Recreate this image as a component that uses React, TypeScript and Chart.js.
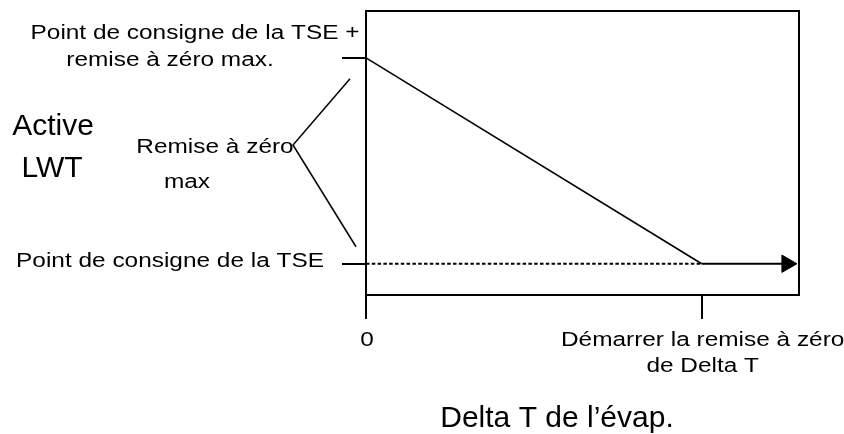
import React, { useEffect, useRef } from "react";
import { Chart, registerables } from "chart.js";

Chart.register(...registerables);

// ---- data (abstract units) ----
const X_MIN = 0;
const X_MAX = 12.9;
const X_RESET_START = 10; // "Démarrer la remise à zéro de Delta T"
const X_ARROW_END = 12.54;
const Y_MIN = 0;
const Y_MAX = 10;
const SETPOINT = 1.1; // "Point de consigne de la TSE"
const MAX_RESET = 7.25; // "Remise à zéro max"

const resetLineX = [0, X_RESET_START];
const resetLineY = [SETPOINT + MAX_RESET, SETPOINT];
const baseLineX = [0, X_RESET_START];
const baseLineY = [SETPOINT, SETPOINT];
const arrowX = [X_RESET_START, X_ARROW_END];
const arrowY = [SETPOINT, SETPOINT];

const xTickValues = [0, X_RESET_START];
const xTickLabels = [["0"], ["Démarrer la remise à zéro", "de Delta T"]];
const yTickValues = [SETPOINT, SETPOINT + MAX_RESET];
const yLowLabel = "Point de consigne de la TSE";
const yHighLabel = ["Point de consigne de la TSE +", "remise à zéro max."];
const bracketLabel = ["Remise à zéro", "max"];
const yTitle = ["Active", "LWT"];
const xTitle = "Delta T de l’évap.";

const FONT = '"Liberation Sans", Arial, Helvetica, sans-serif';

const toPts = (xs: number[], ys: number[]) => xs.map((x, i) => ({ x, y: ys[i] }));

function stretchText(
  ctx: CanvasRenderingContext2D,
  text: string,
  x: number,
  y: number,
  size: number,
  align: CanvasTextAlign,
  sx: number
) {
  ctx.save();
  ctx.translate(x, y);
  ctx.scale(sx, 1);
  ctx.font = `${size}px ${FONT}`;
  ctx.textAlign = align;
  ctx.textBaseline = "alphabetic";
  ctx.fillStyle = "#000";
  ctx.fillText(text, 0, 0);
  ctx.restore();
}

const decorPlugin = {
  id: "decor",
  afterDraw(chart: any) {
    const ctx: CanvasRenderingContext2D = chart.ctx;
    const { left, right, top, bottom } = chart.chartArea;
    const xs = chart.scales.x;
    const ys = chart.scales.y;
    ctx.save();
    ctx.strokeStyle = "#000";
    ctx.lineWidth = 2;
    ctx.setLineDash([]);
    // frame
    ctx.strokeRect(left, top, right - left, bottom - top);
    // x ticks
    xTickValues.forEach((v) => {
      const px = Math.round(xs.getPixelForValue(v));
      ctx.beginPath();
      ctx.moveTo(px, bottom);
      ctx.lineTo(px, bottom + 24);
      ctx.stroke();
    });
    // y ticks
    yTickValues.forEach((v) => {
      const py = Math.round(ys.getPixelForValue(v));
      ctx.beginPath();
      ctx.moveTo(left - 24, py);
      ctx.lineTo(left, py);
      ctx.stroke();
    });
    const yLow = ys.getPixelForValue(yTickValues[0]);
    const yHigh = ys.getPixelForValue(yTickValues[1]);
    // bracket
    ctx.lineWidth = 1.5;
    ctx.beginPath();
    ctx.moveTo(left - 16, yHigh + 21);
    ctx.lineTo(left - 73, 145);
    ctx.lineTo(left - 10, yLow - 17);
    ctx.stroke();
    ctx.restore();

    const SX = 1.22;
    // x tick labels
    xTickValues.forEach((v, i) => {
      const px = xs.getPixelForValue(v);
      xTickLabels[i].forEach((line, j) => {
        stretchText(ctx, line, px + 1, bottom + 51 + j * 26, 20, "center", SX);
      });
    });
    // y labels
    stretchText(ctx, yLowLabel, left - 42, yLow + 3, 20, "right", SX);
    stretchText(ctx, yHighLabel[0], 195, yHigh - 19, 20, "center", SX);
    stretchText(ctx, yHighLabel[1], 170, yHigh + 8, 20, "center", SX);
    stretchText(ctx, bracketLabel[0], 215, 153, 20, "center", SX);
    stretchText(ctx, bracketLabel[1], 187, 188, 20, "center", SX);
    // titles
    stretchText(ctx, yTitle[0], 53, 135, 30, "center", 1);
    stretchText(ctx, yTitle[1], 52, 177, 30, "center", 1);
    stretchText(ctx, xTitle, 557, 427, 30, "center", 1);
  },
};

export default function App() {
  const ref = useRef<HTMLCanvasElement | null>(null);
  useEffect(() => {
    if (!ref.current) return;
    const chart = new Chart(ref.current, {
      type: "scatter",
      data: {
        datasets: [
          {
            label: "reset",
            data: toPts(resetLineX, resetLineY),
            showLine: true,
            borderColor: "#000",
            borderWidth: 1.6,
            pointRadius: 0,
          },
          {
            label: "base",
            data: toPts(baseLineX, baseLineY),
            showLine: true,
            borderColor: "#000",
            borderWidth: 2.2,
            borderDash: [3.5, 2.3],
            borderCapStyle: "butt",
            pointRadius: 0,
          },
          {
            label: "arrow",
            data: toPts(arrowX, arrowY),
            showLine: true,
            borderColor: "#000",
            borderWidth: 2,
            pointRadius: [0, 10],
            pointStyle: "triangle",
            rotation: 90,
            pointBackgroundColor: "#000",
            pointBorderColor: "#000",
            pointBorderWidth: 1,
          } as any,
        ],
      },
      options: {
        responsive: false,
        animation: false,
        devicePixelRatio: 1,
        layout: { padding: { left: 366, right: 45, top: 8, bottom: 139 } },
        plugins: { legend: { display: false }, tooltip: { enabled: false }, title: { display: false } },
        scales: {
          x: { type: "linear", min: X_MIN, max: X_MAX, display: false },
          y: { type: "linear", min: Y_MIN, max: Y_MAX, display: false },
        },
      },
      plugins: [decorPlugin],
    });
    return () => chart.destroy();
  }, []);
  return (
    <div style={{ position: "absolute", left: 0, top: 0, width: 844, height: 434, background: "#fff" }}>
      <canvas ref={ref} width={844} height={434} style={{ display: "block" }} />
    </div>
  );
}
